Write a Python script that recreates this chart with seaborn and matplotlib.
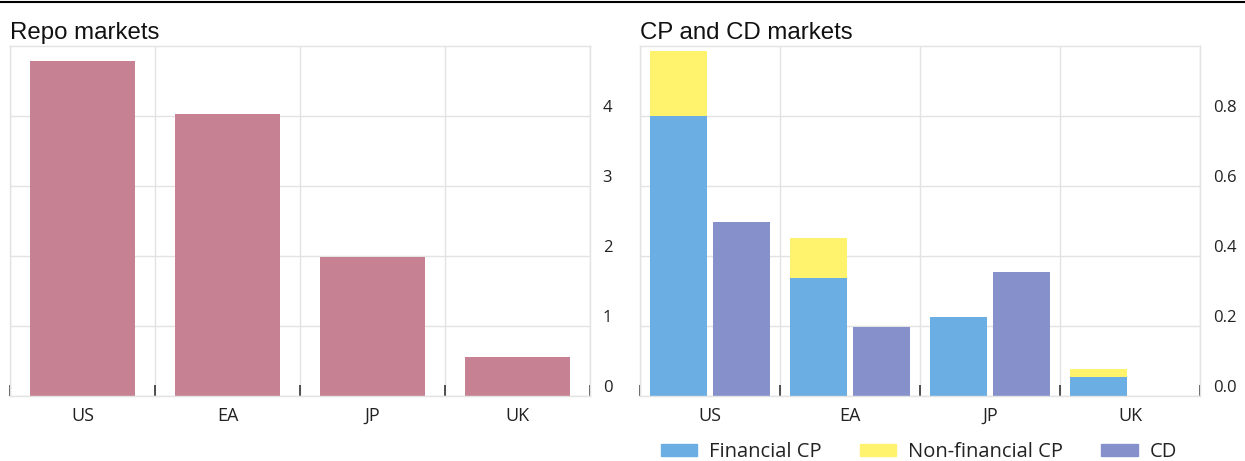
import matplotlib
matplotlib.use("Agg")
import matplotlib.pyplot as plt
from matplotlib.patches import Patch
from matplotlib.lines import Line2D
import numpy as np
import pandas as pd
import seaborn as sns

sns.set_style("white")
plt.rcParams["font.family"] = ["Open Sans", "DejaVu Sans"]

countries = ["US", "EA", "JP", "UK"]
repo = [4.78, 4.03, 1.99, 0.56]

fin_cp = [0.80, 0.337, 0.226, 0.054]
nonfin_cp = [0.185, 0.114, 0.0, 0.023]
cd = [0.497, 0.197, 0.354, 0.0]

repo_color = "#C68292"
fin_color = "#6AAEE4"
nonfin_color = "#FFF36E"
cd_color = "#8691CC"
grid_color = "#E3E3E3"

fig = plt.figure(figsize=(12.45, 4.61), dpi=100)
ax1 = fig.add_axes([0.008, 0.141, 0.466, 0.759])
ax2 = fig.add_axes([0.514, 0.141, 0.450, 0.759])

# left panel
df_repo = pd.DataFrame({"country": countries, "value": repo})
sns.barplot(data=df_repo, x="country", y="value", color=repo_color,
            width=0.72, saturation=1, linewidth=0, ax=ax1)
ax1.set_ylim(0, 5)
ax1.set_yticks([0, 1, 2, 3, 4])

# right panel: CP total (yellow) behind, financial CP (blue) in front, CD next to it
cp_total = [f + n for f, n in zip(fin_cp, nonfin_cp)]
df_tot = pd.DataFrame({
    "country": countries * 2,
    "kind": ["CP"] * 4 + ["CD"] * 4,
    "value": cp_total + cd,
})
df_fin = pd.DataFrame({
    "country": countries * 2,
    "kind": ["CP"] * 4 + ["CD"] * 4,
    "value": fin_cp + [0.0] * 4,
})
sns.barplot(data=df_tot, x="country", y="value", hue="kind", hue_order=["CP", "CD"],
            palette={"CP": nonfin_color, "CD": cd_color}, saturation=1, linewidth=0,
            width=0.9, gap=0.1, ax=ax2, legend=False)
sns.barplot(data=df_fin, x="country", y="value", hue="kind", hue_order=["CP", "CD"],
            palette={"CP": fin_color, "CD": cd_color}, saturation=1, linewidth=0,
            width=0.9, gap=0.1, ax=ax2, legend=False)
ax2.set_ylim(0, 1.0)
ax2.set_yticks([0.0, 0.2, 0.4, 0.6, 0.8])
ax2.set_yticklabels(["0.0", "0.2", "0.4", "0.6", "0.8"])

for ax, title in [(ax1, "Repo markets"), (ax2, "CP and CD markets")]:
    ax.set_xlim(-0.5, 3.5)
    ax.set_xlabel("")
    ax.set_ylabel("")
    ax.yaxis.tick_right()
    ax.tick_params(axis="y", length=0, pad=9, labelsize=12, labelcolor="#222222")
    for lab in ax.get_yticklabels():
        lab.set_va("bottom")
    ax.tick_params(axis="x", which="major", length=0, pad=8, labelsize=13,
                   labelcolor="#222222")
    ax.set_xticks(np.arange(-0.5, 4.0, 1.0), minor=True)
    ax.tick_params(axis="x", which="minor", bottom=True, direction="in", length=8,
                   width=1.2, color="#333333")
    ax.grid(axis="y", color=grid_color, linewidth=1)
    ax.grid(axis="x", which="minor", color=grid_color, linewidth=1)
    ax.set_axisbelow(True)
    for s in ax.spines.values():
        s.set_color(grid_color)
        s.set_linewidth(1)
    ax.set_title(title, loc="left", fontsize=17.3, family=["Liberation Sans"],
                 pad=5, color="#111111", x=0.0)

handles = [Patch(color=fin_color, label="Financial CP"),
           Patch(color=nonfin_color, label="Non-financial CP"),
           Patch(color=cd_color, label="CD")]
fig.legend(handles=handles, loc="center", bbox_to_anchor=(0.738, 0.019), ncol=3,
           frameon=False, fontsize=14.5, handlelength=1.8, handleheight=0.55,
           columnspacing=1.9, handletextpad=0.6, labelcolor="#222222")

fig.add_artist(Line2D([0, 1], [0.996, 0.996], color="black", linewidth=1.5,
                      transform=fig.transFigure))

fig.savefig("out.png", dpi=100)
